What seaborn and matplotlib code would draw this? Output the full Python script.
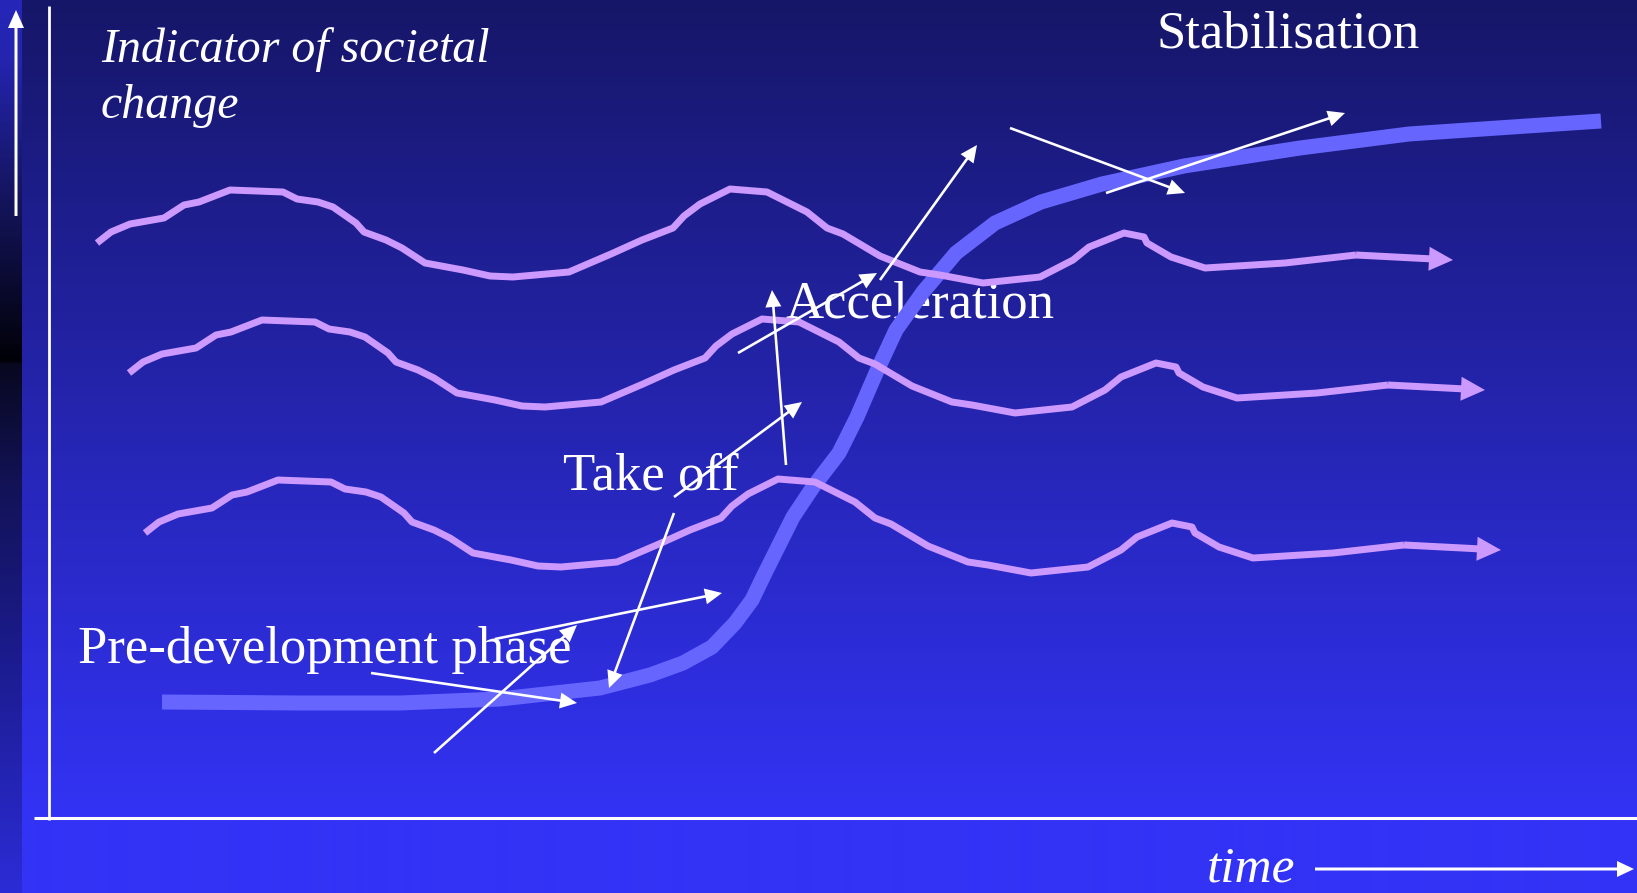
import numpy as np
import pandas as pd
import matplotlib
matplotlib.use("Agg")
import matplotlib.pyplot as plt
import seaborn as sns
from matplotlib.patches import FancyArrowPatch, ArrowStyle

# Canvas in slide pixels: x grows to the right, y grows downward
W, H = 1637, 893

# One hand-drawn "regime" wave; it is repeated three times with shifts
WAVE_X = [97, 111, 130, 164, 184, 199, 230, 283, 297, 318, 333, 356, 364, 386,
          402, 425, 463, 490, 513, 569, 611, 642, 673, 684, 700, 730, 767, 807,
          827, 843, 880, 920, 940, 983, 1040, 1073, 1089, 1124, 1144, 1147, 1171,
          1205, 1285, 1356, 1453]
WAVE_Y = [243, 232, 224, 218, 205, 202, 190, 192, 199, 202, 207, 223, 232, 240,
          248, 263, 270, 276, 277, 272, 254, 240, 228, 216, 204, 189, 192, 212,
          228, 234, 256, 272, 275, 283, 277, 260, 247, 233, 237, 243, 257,
          268, 263, 255, 260]
WAVE_SHIFT_X = [0, 32, 48]
WAVE_SHIFT_Y = [0, 130, 290]

# Transition S-curve (pre-development -> take off -> acceleration -> stabilisation)
S_X = [162, 300, 400, 500, 600, 650, 683, 712, 735, 752, 765, 778, 793, 813,
       839, 857, 876, 896, 923, 956, 995, 1041, 1102, 1184, 1300, 1409, 1601]
S_Y = [702, 703, 703, 699, 688, 675, 663, 647, 623, 600, 573, 547, 517, 487,
       453, 417, 373, 330, 292, 253, 223, 202, 184, 166, 148, 134, 121]

# Thin white pointer arrows (start -> tip)
ARROW_X0 = [371, 434, 495, 674, 674, 786, 738, 880, 1010, 1106]
ARROW_Y0 = [673, 753, 639, 513, 497, 465, 353, 280, 128, 193]
ARROW_X1 = [577, 577, 722, 609, 802, 772, 877, 977, 1185, 1345]
ARROW_Y1 = [703, 625, 593, 688, 402, 290, 273, 145, 193, 113]

# Phase labels
LABELS = ["Pre-development phase", "Take off", "Acceleration", "Stabilisation"]
LABEL_X = [78, 563, 786, 1157]
LABEL_Y = [663, 489, 317, 47]

Y_TITLE = ["Indicator of societal", "change"]
X_TITLE = "time"

BG_TOP = np.array([22, 22, 104]) / 255
BG_BOTTOM = np.array([51, 51, 246]) / 255
WAVE_COLOR = "#cc99ff"
S_COLOR = "#6666ff"
SERIF = "Liberation Serif"

fig = plt.figure(figsize=(W / 100, H / 100), dpi=100)
ax = fig.add_axes([0, 0, 1, 1])

# background: vertical gradient for the slide, plus the darker side strip
t = np.clip(np.arange(H) / 820.0, 0, 1)[:, None]
bg = BG_TOP + (BG_BOTTOM - BG_TOP) * t
ax.imshow(bg[:, None, :], extent=(22, W, H, 0), aspect="auto", zorder=0,
          interpolation="bilinear")

strip_pos = [0, 60, 200, 345, 360, 364, 480, 650, 893]
strip_col = np.array([[38, 38, 185], [36, 36, 175], [20, 20, 92], [3, 3, 16],
                      [0, 0, 6], [8, 8, 32], [18, 18, 85], [27, 27, 140],
                      [44, 44, 215]]) / 255
rows = np.arange(H)
strip = np.stack([np.interp(rows, strip_pos, strip_col[:, c]) for c in range(3)], axis=1)
ax.imshow(strip[:, None, :], extent=(0, 22, H, 0), aspect="auto", zorder=0,
          interpolation="bilinear")


def pointer(x0, y0, x1, y1, tail, head_len, head_w, color="white", z=6):
    style = ArrowStyle.Simple(head_length=head_len, head_width=head_w,
                              tail_width=tail)
    ax.add_patch(FancyArrowPatch((x0, y0), (x1, y1), arrowstyle=style,
                                 mutation_scale=0.72, color=color, lw=0,
                                 shrinkA=0, shrinkB=0, zorder=z))


# axes of the diagram
ax.plot([49, 49], [6, 820], color="white", lw=2.0, zorder=2, solid_capstyle="butt")
ax.plot([34, W], [818, 818], color="white", lw=2.2, zorder=2, solid_capstyle="butt")
pointer(16, 216, 16, 10, 3, 18, 16)
pointer(1315, 869, 1634, 869, 3, 17, 16)

# labels
ax.text(101, 62, Y_TITLE[0], color="white", fontsize=34.5, family=SERIF,
        style="italic", va="baseline", ha="left", zorder=3)
ax.text(101, 118, Y_TITLE[1], color="white", fontsize=34.5, family=SERIF,
        style="italic", va="baseline", ha="left", zorder=3)
ax.text(1207, 882, X_TITLE, color="white", fontsize=37, family=SERIF,
        style="italic", va="baseline", ha="left", zorder=3)
for s, x, y in zip(LABELS, LABEL_X, LABEL_Y):
    ax.text(x, y, s, color="white", fontsize=38, family=SERIF,
            va="baseline", ha="left", zorder=3)

# S-curve of the transition
sns.lineplot(x=S_X, y=S_Y, sort=False, estimator=None, color=S_COLOR,
             linewidth=10.8, ax=ax, zorder=4, solid_capstyle="butt",
             solid_joinstyle="round")

# three wavy regime lines ending in an arrow
for dx, dy in zip(WAVE_SHIFT_X, WAVE_SHIFT_Y):
    wx = [x + dx for x in WAVE_X]
    wy = [y + dy for y in WAVE_Y]
    sns.lineplot(x=wx[:-1], y=wy[:-1], sort=False, estimator=None,
                 color=WAVE_COLOR, linewidth=5.0, ax=ax, zorder=5,
                 solid_capstyle="butt", solid_joinstyle="round")
    pointer(wx[-2], wy[-2], wx[-1], wy[-1], 7, 24, 24, color=WAVE_COLOR, z=5)

# pointer arrows
for x0, y0, x1, y1 in zip(ARROW_X0, ARROW_Y0, ARROW_X1, ARROW_Y1):
    pointer(x0, y0, x1, y1, 2.6, 17, 16)

ax.set_xlim(0, W)
ax.set_ylim(H, 0)
ax.axis("off")
fig.savefig("out.png", dpi=100)
